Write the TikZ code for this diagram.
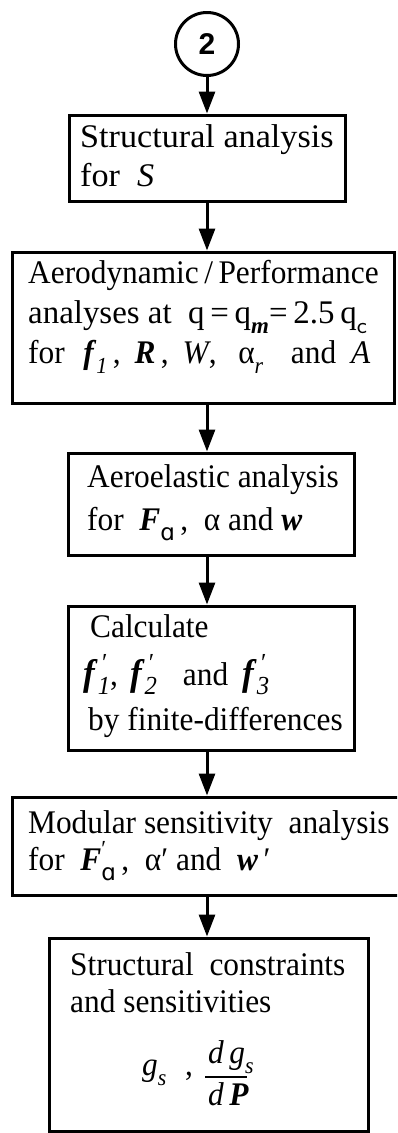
\documentclass[tikz,border=0pt]{standalone}
\usepackage{fontspec}
\setmainfont{Liberation Serif}[FakeStretch=0.95]
\newfontfamily\numfont{Liberation Sans}
\newfontfamily\dvs{DejaVu Sans}
\usetikzlibrary{arrows.meta}
\newcommand{\bi}[1]{\textbf{\textit{#1}}}
\newcommand{\lo}[1]{\raisebox{-0.32em}{\fontsize{23}{23}\selectfont #1}}
\newcommand{\hi}[1]{\raisebox{0.42em}{\fontsize{23}{23}\selectfont #1}}
\newcommand{\hilo}[2]{\rlap{\hi{#1}}\lo{#2}}
\newcommand{\bigf}{{\fontsize{37}{40}\selectfont\bi{f}}}
\newcommand{\flo}[1]{\raisebox{-0.30em}{\fontsize{26}{26}\selectfont #1}}
\newcommand{\fhi}[1]{\raisebox{0.40em}{\fontsize{26}{26}\selectfont #1}}
\begin{document}
\begin{tikzpicture}[x=1pt,y=-1pt,
  box/.style={draw, line width=3pt, rectangle, inner sep=0pt},
  txt/.style={anchor=base west, inner sep=0pt, font=\fontsize{33}{40}\selectfont},
  arr/.style={line width=3pt, -{Triangle[length=22pt,width=16pt]}}]
\useasboundingbox (0,0) rectangle (397,1133);
\clip (0,0) rectangle (397,1133);
\coordinate (ax) at (207,0);
% circle
\node[draw, circle, line width=3pt, minimum size=63pt, inner sep=0pt,
      font=\numfont\bfseries\fontsize{30}{30}\selectfont] (c) at (207,44) {2};
% boxes
\node[box, minimum width=276pt, minimum height=86pt]  (b1) at (207,158) {};
\node[box, minimum width=382pt, minimum height=151pt] (b2) at (203,327.5) {};
\node[box, minimum width=286pt, minimum height=102pt] (b3) at (211,504) {};
\node[box, minimum width=286pt, minimum height=144pt] (b4) at (211,678) {};
\node[box, minimum width=390pt, minimum height=98pt]  (b5) at (207,846) {};
\node[box, minimum width=319pt, minimum height=193pt] (b6) at (208.5,1034.5) {};
% arrows
\draw[arr] (c.south) -- (b1.north -| ax);
\draw[arr] (b1.south -| ax) -- (b2.north -| ax);
\draw[arr] (b2.south -| ax) -- (b3.north -| ax);
\draw[arr] (b3.south -| ax) -- (b4.north -| ax);
\draw[arr] (b4.south -| ax) -- (b5.north -| ax);
\draw[arr] (b5.south -| ax) -- (b6.north -| ax);
% texts
\node[txt] (t11) at (80,147) {\scalebox{1.09}[1]{Structural analysis}};
\node[txt] (t12) at (80,186) {\scalebox{1.09}[1]{for~~\textit{S}}};
\node[txt] (t21) at (28,283) {Aerodynamic\,/\,Performance};
\node[txt] (t22) at (28,323) {\scalebox{1.05}[1]{analyses at~~q\,=\,q\lo{\bi{m}}=\,2.5\,q\lo{\textsf{c}}}};
\node[txt] (t23) at (28,363) {for~~\hspace{3pt}\bi{f}\lo{\textit{1}}\,,\hspace{6pt} \bi{R}\,,\hspace{6pt} \textit{W},~~\hspace{6pt}α\lo{\textit{r}}~~\hspace{12pt}and\hspace{7pt} \textit{A}};
\node[txt] (t31) at (87,487) {Aeroelastic analysis};
\node[txt] (t32) at (87,530) {for~~\bi{F}\lo{\dvs ɑ}\,,~~α and \bi{w}};
\node[txt] (t41) at (90,637) {Calculate};
\node[txt] (t42) at (83,685) {\bigf\rlap{\fhi{\,′}}\flo{\textit{1}},\hspace{12pt}\bigf\rlap{\fhi{\,′}}\flo{\textit{2}}\hspace{26pt}and\hspace{14pt}\bigf\rlap{\fhi{\,′}}\flo{\textit{3}}};
\node[txt] (t43) at (88,730) {by finite-differences};
\node[txt] (t51) at (28,833) {Modular sensitivity~~analysis};
\node[txt] (t52) at (28,870) {for~~\bi{F}\hilo{′}{\dvs ɑ}\,,~~α′ and~~\bi{w}\,′};
\node[txt] (t61) at (70,975) {Structural~~constraints};
\node[txt] (t62) at (70,1012) {and sensitivities};
\node[txt] (gs) at (142,1075) {\textit{g}\lo{\textit{s}}};
\node[txt] (cm) at (185,1075) {,};
\node[txt] (num) at (208,1063) {\textit{d}\,\textit{g}\lo{\textit{s}}};
\node[txt] (den) at (208,1105) {\textit{d}\,\bi{P}};
\draw[line width=1.6pt] (205,1077) -- (247,1077);
\end{tikzpicture}
\end{document}
